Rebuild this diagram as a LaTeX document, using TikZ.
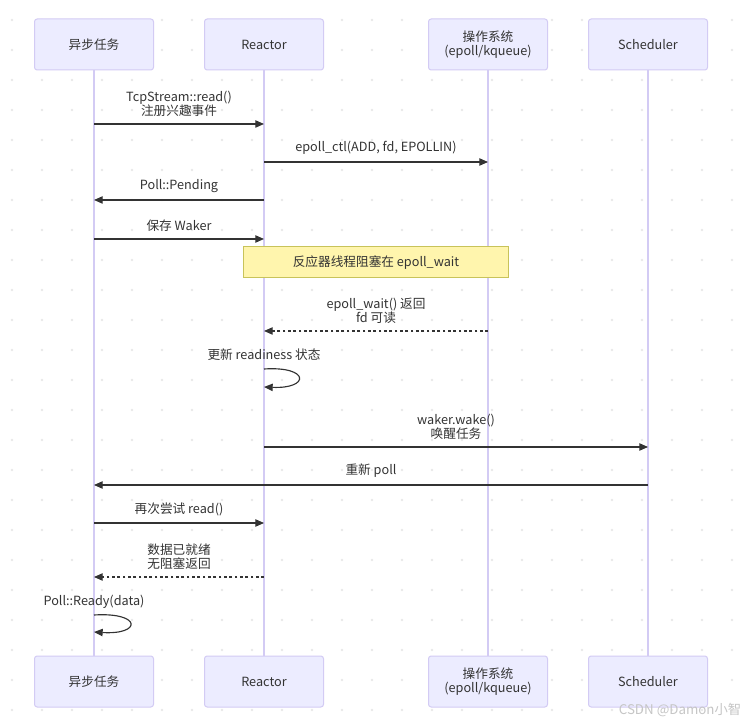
\documentclass[tikz,border=0pt]{standalone}
\usepackage{fontspec}
\setmainfont{Noto Sans CJK SC}
\usetikzlibrary{arrows.meta}
\definecolor{txt}{HTML}{333333}
\definecolor{actfill}{HTML}{ECECFF}
\definecolor{actline}{HTML}{D3CBF4}
\definecolor{notefill}{HTML}{FFF5AD}
\definecolor{noteline}{HTML}{C8C35A}
\definecolor{dotc}{HTML}{E8E8E8}

\begin{document}
\begin{tikzpicture}[x=0.75pt,y=-0.75pt,
	font=\fontsize{9.5}{11}\selectfont, text=txt,
	actor/.style={draw=actline, fill=actfill, rounded corners=2pt, line width=0.75pt,
		minimum width=89.25pt, minimum height=38.25pt, align=center, inner sep=0pt},
	life/.style={draw=actline, line width=0.9pt},
	note/.style={draw=noteline, fill=notefill, line width=0.75pt,
		minimum width=198.75pt, minimum height=23.25pt, inner sep=0pt},
	msg/.style={draw=txt, line width=0.85pt, -{Triangle[length=6.5pt,width=5.5pt]}},
	reply/.style={msg, dash pattern=on 2pt off 2pt},
	lbl/.style={align=center, inner sep=0pt, above=5pt}]
\useasboundingbox (0,0) rectangle (750,723);
\fill[white] (0,0) rectangle (750,723);
% dot grid
\foreach \i in {0,...,24}
	\foreach \j in {0,...,23}
		\fill[dotc] (12+30*\i,20+30*\j) circle (1pt);
% actors and lifelines
\foreach \name/\x/\label in {task/94/异步任务, reactor/264/Reactor,
		os/488/{操作系统\\(epoll/kqueue)}, sched/648/Scheduler} {
	\node[actor] (\name T) at (\x,44.5) {\label};
	\node[actor] (\name B) at (\x,681.5) {\label};
	\draw[life] (\name T) -- (\name B);
}
% messages
\draw[msg] (taskT |- 0,124) -- node[lbl] {TcpStream::read()\\注册兴趣事件} (reactorT |- 0,124);
\draw[msg] (reactorT |- 0,162) -- node[lbl] {epoll\_ctl(ADD, fd, EPOLLIN)} (osT |- 0,162);
\draw[msg] (reactorT |- 0,200) -- node[lbl] {Poll::Pending} (taskT |- 0,200);
\draw[msg] (taskT |- 0,239) -- node[lbl] {保存 Waker} (reactorT |- 0,239);
\node[note] (block) at (376,262.5) {反应器线程阻塞在 epoll\_wait};
\draw[reply] (osT |- 0,331) -- node[lbl] {epoll\_wait() 返回\\fd 可读} (reactorT |- 0,331);
\node (upd) at (264,355) {更新 readiness 状态};
\draw[msg] (reactorT |- 0,369) .. controls (310,366) and (310,389) .. (reactorT |- 0,387);
\draw[msg] (reactorT |- 0,447) -- node[lbl] {waker.wake()\\唤醒任务} (schedT |- 0,447);
\draw[msg] (schedT |- 0,485) -- node[lbl] {重新 poll} (taskT |- 0,485);
\draw[msg] (taskT |- 0,523) -- node[lbl] {再次尝试 read()} (reactorT |- 0,523);
\draw[reply] (reactorT |- 0,577) -- node[lbl] {数据已就绪\\无阻塞返回} (taskT |- 0,577);
\node (ready) at (94,602) {Poll::Ready(data)};
\draw[msg] (taskT |- 0,615) .. controls (142,612) and (142,635) .. (taskT |- 0,632);
% watermark
\node[text=gray!45, anchor=east, font=\fontsize{10}{12}\selectfont] (mark) at (746,710) {CSDN @Damon小智};
\end{tikzpicture}
\end{document}
